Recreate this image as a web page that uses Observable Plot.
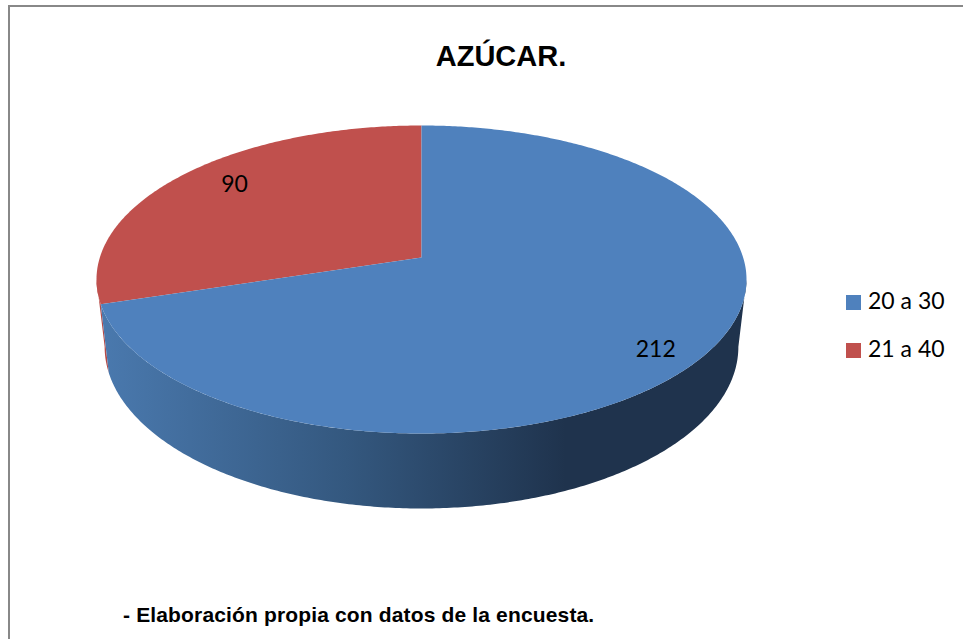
<!DOCTYPE html>
<html lang="es">
<head>
<meta charset="utf-8">
<script src="https://cdn.jsdelivr.net/npm/d3@7"></script>
<script src="https://cdn.jsdelivr.net/npm/@observablehq/plot@0.6"></script>
<style>
  html, body { margin: 0; background: #fff; overflow: hidden; }
  #chart { position: relative; width: 963px; height: 639px; overflow: hidden; }
  #chart svg { position: absolute; left: 0; top: 0; background: none; }
  .frame { position: absolute; left: 8px; top: 5px; right: 0; bottom: 0; border-top: 2px solid #888; border-left: 2px solid #888; }
  .title { position: absolute; left: 0; top: 40px; width: 1002px; text-align: center; font: bold 29px "Liberation Sans", Arial, sans-serif; color: #000; }
  .note { position: absolute; left: 123px; top: 603px; font: bold 21px "Liberation Sans", Arial, sans-serif; letter-spacing: 0.15px; color: #000; white-space: nowrap; }
  .legend { position: absolute; left: 846px; top: 284px; font: 23px Lato, sans-serif; color: #000; }
  .legend div { height: 48px; line-height: 32px; white-space: nowrap; }
  .legend i { display: inline-block; width: 15px; height: 15px; margin-right: 7px; vertical-align: -1px; }
</style>
</head>
<body>
<div id="chart">
  <div class="frame"></div>
  <div class="title">AZÚCAR.</div>
  <div class="legend" id="legend"></div>
  <div class="note">- Elaboración propia con datos de la encuesta.</div>
</div>
<script>
const categories = ["20 a 30", "21 a 40"];
const values = [212, 90];
const colors = ["#4f81bd", "#c0504d"];
const wallRed = "#b64a47";

// Perspective tilt of the disc and shape of its lower rim, in plot units
const tilt = 1 / 7;
const rimDrop = 0.376, rimScaleX = 0.975, rimScaleY = 1.05;
const squash = 150.86 / 176;
const norm = Math.sqrt(1 - tilt * tilt);

function project(theta, r = 1, plane = "top") {
  const u = r * Math.sin(theta), v = -r * Math.cos(theta);
  const d = 1 - tilt * v;
  const x = norm * u / d, y = squash * v / d;
  return plane === "top" ? {x, y} : {x: rimScaleX * x, y: rimDrop + rimScaleY * y};
}
function arc(a0, a1, plane) {
  const n = Math.max(2, Math.ceil(Math.abs(a1 - a0) / 0.01));
  return d3.range(n + 1).map(i => project(a0 + (a1 - a0) * i / n, 1, plane));
}

const total = d3.sum(values);
const angles = [];
values.reduce((acc, v) => { angles.push([acc / total * 2 * Math.PI, (acc + v) / total * 2 * Math.PI]); return acc + v; }, 0);

const tangentR = Math.acos(-tilt);              // right silhouette of the disc
const tangentL = 2 * Math.PI - tangentR;        // left silhouette of the disc

const slices = angles.map(([a0, a1]) => [project(0, 0), ...arc(a0, a1, "top")]);
const wallBlue = [...arc(tangentR, angles[0][1], "top"), ...arc(angles[0][1], tangentR, "bottom")];
const wallLeft = [...arc(angles[1][0], tangentL, "top"), ...arc(tangentL, angles[1][0], "bottom")];

const labels = angles.map(([a0, a1], i) => ({...project((a0 + a1) / 2, 0.83), text: String(values[i])}));

const gradient = () => {
  const defs = d3.create("svg:defs");
  const g = defs.append("linearGradient").attr("id", "wall").attr("x1", 0).attr("x2", 1).attr("y1", 0).attr("y2", 0);
  [[0, "#4a79ae"], [0.38, "#34587f"], [0.72, "#1f334d"], [1, "#1f334d"]]
    .forEach(([o, c]) => g.append("stop").attr("offset", o).attr("stop-color", c));
  return defs.node();
};

const labelStyle = {x: "x", y: "y", text: "text", fontSize: 23, fontFamily: "Lato, sans-serif", fill: "#000"};

const plot = Plot.plot({
  width: 963,
  height: 639,
  margin: 0,
  x: {domain: [-1, 1], range: [96, 746], axis: null},
  y: {domain: [-1, 1], range: [81, 433], axis: null},
  marks: [
    gradient,
    Plot.line(wallLeft, {x: "x", y: "y", fill: wallRed, stroke: "none"}),
    Plot.line(wallBlue, {x: "x", y: "y", fill: "url(#wall)", stroke: "none"}),
    Plot.line(slices[1], {x: "x", y: "y", fill: colors[1], stroke: "none"}),
    Plot.line(slices[0], {x: "x", y: "y", fill: colors[0], stroke: "none"}),
    Plot.text([labels[0]], {...labelStyle, dx: 3, dy: 12}),
    Plot.text([labels[1]], {...labelStyle, dx: 14, dy: -4})
  ]
});
document.getElementById("chart").insertBefore(plot, document.querySelector(".title"));

document.getElementById("legend").innerHTML = categories
  .map((c, i) => `<div><i style="background:${colors[i]}"></i>${c}</div>`).join("");
</script>
</body>
</html>
